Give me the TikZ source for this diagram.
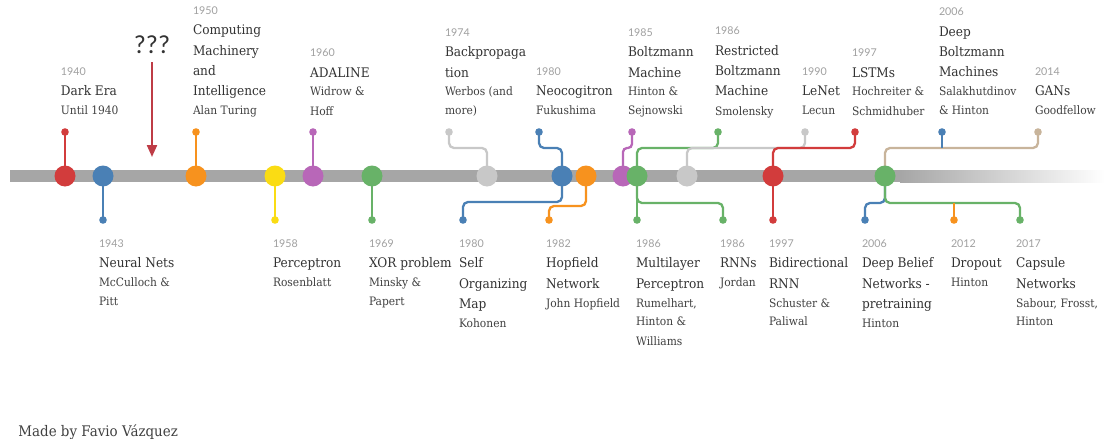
\documentclass[tikz,border=0pt]{standalone}
\usepackage{fontspec}
\setmainfont{DejaVu Serif}[FakeStretch=0.92]
\newfontfamily\yearfont{Lato}
\newfontfamily\qfont{Carlito}
\usetikzlibrary{arrows.meta}
\definecolor{cred}{HTML}{D23C3C}
\definecolor{cblue}{HTML}{4A80B5}
\definecolor{corange}{HTML}{F7921E}
\definecolor{cyellow}{HTML}{FADC14}
\definecolor{cpurple}{HTML}{B867B8}
\definecolor{cgreen}{HTML}{68B268}
\definecolor{clgrey}{HTML}{C8C8C8}
\definecolor{ctan}{HTML}{C8B49B}
\definecolor{bargrey}{HTML}{A6A6A6}
\definecolor{arrowred}{HTML}{BE3C46}
\definecolor{titlegrey}{HTML}{333333}
\definecolor{subgrey}{HTML}{404040}
\definecolor{yeargrey}{HTML}{A0A0A0}
\pgfdeclarelayer{barlayer}
\pgfdeclarelayer{linelayer}
\pgfsetlayers{barlayer,linelayer,main}
\newcommand\lyr{\yearfont\fontsize{5.35}{9.5}\selectfont\spaceskip=0pt\xspaceskip=0pt\color{yeargrey}}
\newcommand\ltitle{\fontsize{6.6}{10.25}\selectfont\spaceskip=0pt\xspaceskip=0pt\color{titlegrey}}
\newcommand\lsub{\fontsize{5.8}{9.5}\selectfont\spaceskip=0pt\xspaceskip=0pt\color{subgrey}}
\newcommand\TopLab[5]{\node[lab,anchor=south west] (#1) at (#2,120.7) {{\lyr #3\par}{\ltitle #4\par}{\lsub #5\strut\par}};}
\newcommand\BotLab[5]{\node[lab,anchor=base west] (#1) at (#2,247) {{\lyr #3\par}{\ltitle #4\par}{\lsub #5\par}};}
\begin{document}
\begin{tikzpicture}[x=0.5pt,y=-0.5pt,
  bigdot/.style={circle,inner sep=0pt,minimum size=10.5pt},
  enddot/.style={circle,inner sep=0pt,minimum size=3.8pt},
  stem/.style={line width=1.15pt,rounded corners=2.5pt},
  lab/.style={text width=62pt,align=left,inner sep=0pt,outer sep=0pt}]
\useasboundingbox (0,0) rectangle (1105,439);
\begin{pgfonlayer}{barlayer}
  \fill[white] (0,0) rectangle (1105,439);
  \fill[bargrey] (10,170) rectangle (901,182);
  \shade[left color=bargrey,right color=white] (900,170) rectangle (1105,182);
\end{pgfonlayer}
\coordinate (uplev) at (0,148);
\coordinate (dnlev) at (0,203);
\coordinate (dnlevb) at (0,202);
\coordinate (dnlevo) at (0,206);
% dots on the bar
\node[bigdot,fill=cred] (b1940) at (65,176) {};
\node[bigdot,fill=cblue] (b1943) at (103,176) {};
\node[bigdot,fill=corange] (b1950) at (196,176) {};
\node[bigdot,fill=cyellow] (b1958) at (275,176) {};
\node[bigdot,fill=cpurple] (b1960) at (313,176) {};
\node[bigdot,fill=cgreen] (b1969) at (372,176) {};
\node[bigdot,fill=clgrey] (b1974) at (487,176) {};
\node[bigdot,fill=cblue] (b1980) at (562,176) {};
\node[bigdot,fill=corange] (b1982) at (586,176) {};
\node[bigdot,fill=cpurple] (b1985) at (623,176) {};
\node[bigdot,fill=cgreen] (b1986) at (637,176) {};
\node[bigdot,fill=clgrey] (b1990) at (687,176) {};
\node[bigdot,fill=cred] (b1997) at (773,176) {};
\node[bigdot,fill=cgreen] (b2006) at (885,176) {};
% end dots top
\node[enddot,fill=cred] (e1940) at (65,132) {};
\node[enddot,fill=corange] (e1950) at (196,132) {};
\node[enddot,fill=cpurple] (e1960) at (313,132) {};
\node[enddot,fill=clgrey] (e1974) at (449,132) {};
\node[enddot,fill=cblue] (e1980n) at (539,132) {};
\node[enddot,fill=cpurple] (e1985) at (632,132) {};
\node[enddot,fill=cgreen] (e1986r) at (718,132) {};
\node[enddot,fill=clgrey] (e1990) at (805,132) {};
\node[enddot,fill=cred] (e1997l) at (855,132) {};
\node[enddot,fill=cblue] (e2006d) at (942,132) {};
\node[enddot,fill=ctan] (e2014) at (1038,132) {};
% end dots bottom
\node[enddot,fill=cblue] (e1943) at (103,220) {};
\node[enddot,fill=cyellow] (e1958) at (275,220) {};
\node[enddot,fill=cgreen] (e1969) at (372,220) {};
\node[enddot,fill=cblue] (e1980s) at (463,220) {};
\node[enddot,fill=corange] (e1982) at (549,220) {};
\node[enddot,fill=cgreen] (e1986m) at (637,220) {};
\node[enddot,fill=cgreen] (e1986j) at (723,220) {};
\node[enddot,fill=cred] (e1997b) at (773,220) {};
\node[enddot,fill=cblue] (e2006b) at (865,220) {};
\node[enddot,fill=corange] (e2012) at (954,220) {};
\node[enddot,fill=cgreen] (e2017) at (1020,220) {};
\begin{pgfonlayer}{linelayer}
  % top stems
  \draw[stem,cred] (e1940.center) -- (b1940.center);
  \draw[stem,corange] (e1950.center) -- (b1950.center);
  \draw[stem,cpurple] (e1960.center) -- (b1960.center);
  \draw[stem,clgrey] (e1974.center) -- (e1974.center |- uplev) -| (b1974.center);
  \draw[stem,cblue] (e1980n.center) -- (e1980n.center |- uplev) -| (b1980.center);
  \draw[stem,cpurple,rounded corners=2pt] (e1985.center) -- (e1985.center |- uplev) -| (b1985.center);
  \draw[stem,cgreen] (e1986r.center) -- (e1986r.center |- uplev) -| (b1986.center);
  \draw[stem,clgrey] (e1990.center) -- (e1990.center |- uplev) -| (b1990.center);
  \draw[stem,cred] (e1997l.center) -- (e1997l.center |- uplev) -| (b1997.center);
  \draw[stem,ctan] (e2014.center) -- (e2014.center |- uplev) -| (b2006.center);
  \draw[stem,cblue] (e2006d.center) -- (e2006d.center |- uplev);
  % bottom stems
  \draw[stem,cblue] (b1943.center) -- (e1943.center);
  \draw[stem,cyellow] (b1958.center) -- (e1958.center);
  \draw[stem,cgreen] (b1969.center) -- (e1969.center);
  \draw[stem,cblue] (b1980.center) -- (b1980.center |- dnlevb) -| (e1980s.center);
  \draw[stem,corange] (b1982.center) -- (b1982.center |- dnlevo) -| (e1982.center);
  \draw[stem,cgreen] (b1986.center) -- (e1986m.center);
  \draw[stem,cgreen] (b1986.center) -- (b1986.center |- dnlev) -| (e1986j.center);
  \draw[stem,cred] (b1997.center) -- (e1997b.center);
  \draw[stem,cblue] (e2006b.center) -- (e2006b.center |- dnlev) -| (b2006.center);
  \draw[stem,cgreen] (b2006.center) -- (b2006.center |- dnlev) -| (e2017.center);
  \draw[stem,corange] (e2012.center) -- (e2012.center |- dnlev);
\end{pgfonlayer}
% top labels
\TopLab{l1940}{61}{1940}{Dark Era}{Until 1940}
\TopLab{l1950}{193}{1950}{Computing\\Machinery\\and\\Intelligence}{Alan Turing}
\TopLab{l1960}{310}{1960}{ADALINE}{Widrow \&\\Hoff}
\TopLab{l1974}{445}{1974}{Backpropaga\\tion}{Werbos (and\\more)}
\TopLab{l1980n}{536}{1980}{Neocogitron}{Fukushima}
\TopLab{l1985}{628}{1985}{Boltzmann\\Machine}{Hinton \&\\Sejnowski}
\TopLab{l1986r}{715}{1986}{Restricted\\Boltzmann\\Machine}{Smolensky}
\TopLab{l1990}{802}{1990}{LeNet}{Lecun}
\TopLab{l1997l}{852}{1997}{LSTMs}{Hochreiter \&\\Schmidhuber}
\TopLab{l2006d}{939}{2006}{Deep\\Boltzmann\\Machines}{Salakhutdinov\\\& Hinton}
\TopLab{l2014}{1035}{2014}{GANs}{Goodfellow}
% bottom labels
\BotLab{l1943}{99}{1943}{Neural Nets}{McCulloch \&\\Pitt}
\BotLab{l1958}{273}{1958}{Perceptron}{Rosenblatt}
\BotLab{l1969}{369}{1969}{XOR problem}{Minsky \&\\Papert}
\BotLab{l1980s}{459}{1980}{Self\\Organizing\\Map}{Kohonen}
\BotLab{l1982}{546}{1982}{Hopfield\\Network}{John Hopfield}
\BotLab{l1986m}{636}{1986}{Multilayer\\Perceptron}{Rumelhart,\\Hinton \&\\Williams}
\BotLab{l1986j}{720}{1986}{RNNs}{Jordan}
\BotLab{l1997b}{769}{1997}{Bidirectional\\RNN}{Schuster \&\\Paliwal}
\BotLab{l2006b}{862}{2006}{Deep Belief\\Networks -\\pretraining}{Hinton}
\BotLab{l2012}{951}{2012}{Dropout}{Hinton}
\BotLab{l2017}{1016}{2017}{Capsule\\Networks}{Sabour, Frosst,\\Hinton}
% question marks and arrow
\node[font=\qfont\fontsize{13}{15}\selectfont,text=titlegrey,inner sep=0pt] (qm) at (152,45) {???};
\coordinate (tip) at (152,157);
\draw[arrowred,line width=1.1pt,-{Triangle[width=5pt,length=6pt]},shorten <=4pt] (qm) -- (tip);
% credit
\node[anchor=base west,inner sep=0pt,font=\fontsize{7.3}{9}\selectfont,text=subgrey] (credit) at (18,436) {Made by Favio Vázquez};
\end{tikzpicture}
\end{document}
